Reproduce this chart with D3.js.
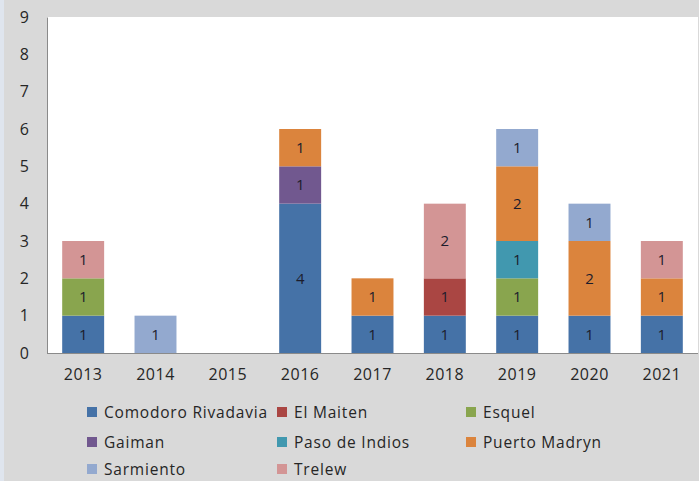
<!DOCTYPE html>
<html><head><meta charset="utf-8">
<script src="https://cdn.jsdelivr.net/npm/d3@7"></script>
<style>
body{margin:0;background:#d9d9d9;}
svg{display:block;}
text{font-family:"Open Sans",sans-serif;}
</style></head>
<body>
<svg id="c" width="699" height="481"></svg>
<script>
const years = ["2013","2014","2015","2016","2017","2018","2019","2020","2021"];
const cities = ["Comodoro Rivadavia","El Maiten","Esquel","Gaiman","Paso de Indios","Puerto Madryn","Sarmiento","Trelew"];
const colors = ["#4572a7","#aa4643","#89a54e","#71588f","#4198af","#db843d","#93a9cf","#d39595"];
// values per city, by year
const comodoro = [1,0,0,4,1,1,1,1,1];
const elMaiten = [0,0,0,0,0,1,0,0,0];
const esquel   = [1,0,0,0,0,0,1,0,0];
const gaiman   = [0,0,0,1,0,0,0,0,0];
const pasoIndios=[0,0,0,0,0,0,1,0,0];
const puertoMadryn=[0,0,0,1,1,0,2,2,1];
const sarmiento= [0,1,0,0,0,0,1,1,0];
const trelew   = [1,0,0,0,0,2,0,0,1];
const yTicks = [0,1,2,3,4,5,6,7,8,9];

const series = [comodoro,elMaiten,esquel,gaiman,pasoIndios,puertoMadryn,sarmiento,trelew];
const rows = years.map((y,i)=>{const o={year:y}; cities.forEach((c,k)=>o[c]=series[k][i]); return o;});

const svg = d3.select("#c");
const L=47, R=698, T=17, B=353;
svg.append("rect").attr("x",0).attr("y",0).attr("width",4).attr("height",481).attr("fill","#dfe5ee");
svg.append("rect").attr("x",L).attr("y",T).attr("width",R-L).attr("height",B-T).attr("fill","#fff");

const x = d3.scaleBand().domain(years).range([L,R]).paddingInner(0.42).paddingOuter(0.21);
const y = d3.scaleLinear().domain([0,9]).range([B,T]);

const stack = d3.stack().keys(cities)(rows);
const g = svg.append("g");
stack.forEach((s,k)=>{
  g.selectAll(null).data(s.filter(d=>d[1]-d[0]>0)).enter().append("rect")
    .attr("x",d=>x(d.data.year)).attr("width",x.bandwidth())
    .attr("y",d=>y(d[1])).attr("height",d=>y(d[0])-y(d[1]))
    .attr("fill",colors[k]);
  g.selectAll(null).data(s.filter(d=>d[1]-d[0]>0)).enter().append("text")
    .attr("x",d=>x(d.data.year)+x.bandwidth()/2)
    .attr("y",d=>(y(d[0])+y(d[1]))/2)
    .attr("dy","0.36em").attr("text-anchor","middle")
    .attr("font-size",15).attr("fill","#1c1c2c")
    .text(d=>d[1]-d[0]);
});

const yAxis = d3.axisLeft(y).tickValues(yTicks).tickSize(0).tickPadding(18);
const ya = svg.append("g").attr("transform",`translate(${L},0)`).call(yAxis);
ya.select(".domain").attr("stroke","#8a8a8a");
ya.selectAll("text").attr("font-size",16).attr("fill","#262626").attr("font-family","Open Sans");

const xAxis = d3.axisBottom(x).tickSize(0).tickPadding(16);
const xa = svg.append("g").attr("transform",`translate(0,${B})`).call(xAxis);
xa.select(".domain").attr("stroke","#8a8a8a").attr("d",`M${L},0.5H${R}`);
xa.selectAll("text").attr("font-size",16).attr("fill","#262626").attr("letter-spacing",0.5).attr("font-family","Open Sans");

// legend
const legX = [87,277,466], legY=[412,442,469];
const leg = svg.append("g");
cities.forEach((c,k)=>{
  const cx = legX[k%3], cy = legY[Math.floor(k/3)];
  leg.append("rect").attr("x",cx).attr("y",cy-5).attr("width",10).attr("height",10).attr("fill",colors[k]);
  leg.append("text").attr("x",cx+17).attr("y",cy).attr("dy","0.36em")
    .attr("font-size",15.5).attr("fill","#262626").attr("letter-spacing",0.8).text(c);
});
</script>
</body></html>
